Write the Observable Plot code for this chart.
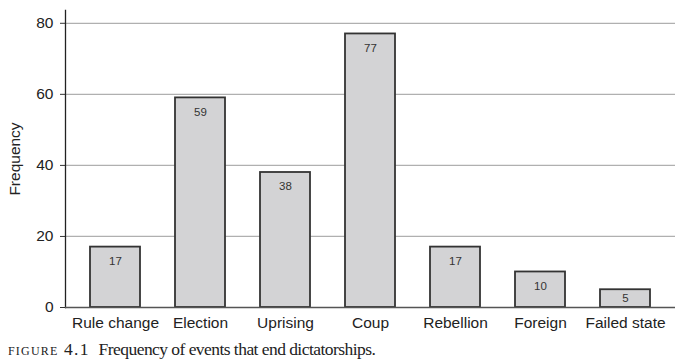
<!DOCTYPE html>
<html>
<head>
<meta charset="utf-8">
<script src="https://cdn.jsdelivr.net/npm/d3@7"></script>
<script src="https://cdn.jsdelivr.net/npm/@observablehq/plot@0.6"></script>
<style>
  html, body { margin: 0; padding: 0; background: #fff; }
  #chart svg { display: block; }
  .caption { font-family: "Liberation Serif", "DejaVu Serif", serif; font-size: 17.5px; color: #222; margin: 3px 0 0 8px; line-height: 20px; letter-spacing: -0.55px; }
  .caption .sc { font-variant: small-caps; letter-spacing: 1.2px; margin-right: 9px; }
</style>
</head>
<body>
<div id="chart"></div>
<div class="caption"><span class="sc">figure 4.1</span>Frequency of events that end dictatorships.</div>
<script>
const categories = ["Rule change", "Election", "Uprising", "Coup", "Rebellion", "Foreign", "Failed state"];
const counts = [17, 59, 38, 77, 17, 10, 5];
const yTicks = [0, 20, 40, 60, 80];

const data = categories.map((c, i) => ({category: c, count: counts[i]}));

const chart = Plot.plot({
  width: 682,
  height: 336,
  marginLeft: 65,
  marginRight: 7,
  marginTop: 10,
  marginBottom: 29,
  style: {fontFamily: "'Liberation Sans', Arial, sans-serif", fontSize: "15px", color: "#222", background: "#fff"},
  x: {domain: categories, paddingInner: 0.4118, paddingOuter: 0.294, label: null},
  y: {domain: [0, 83.6], label: null},
  marks: [
    Plot.gridY(yTicks.filter(d => d > 0), {stroke: "#b0b0b0", strokeOpacity: 1, strokeWidth: 1.3}),
    Plot.axisY({ticks: yTicks, tickSize: 5, tickPadding: 7, fontSize: 15.5, stroke: "#333", label: null}),
    Plot.text(["Frequency"], {frameAnchor: "left", dx: -50, rotate: -90, textAnchor: "middle", fontSize: 15.5, fill: "#222"}),
    Plot.axisX({tickSize: 0, tickPadding: 9, fontSize: 15.5, label: null}),
    Plot.barY(data, {x: "category", y: "count", fill: "#d3d3d5", stroke: "#333", strokeWidth: 1.8}),
    Plot.text(data, {x: "category", y: d => d.count - Math.min(4, d.count / 2), text: d => String(d.count), fontSize: 11.5, fill: "#333"}),
    Plot.frame({anchor: "left", stroke: "#222", strokeWidth: 1.3}),
    Plot.ruleY([0], {stroke: "#555", strokeWidth: 1.5})
  ]
});
document.getElementById("chart").appendChild(chart);
</script>
</body>
</html>
